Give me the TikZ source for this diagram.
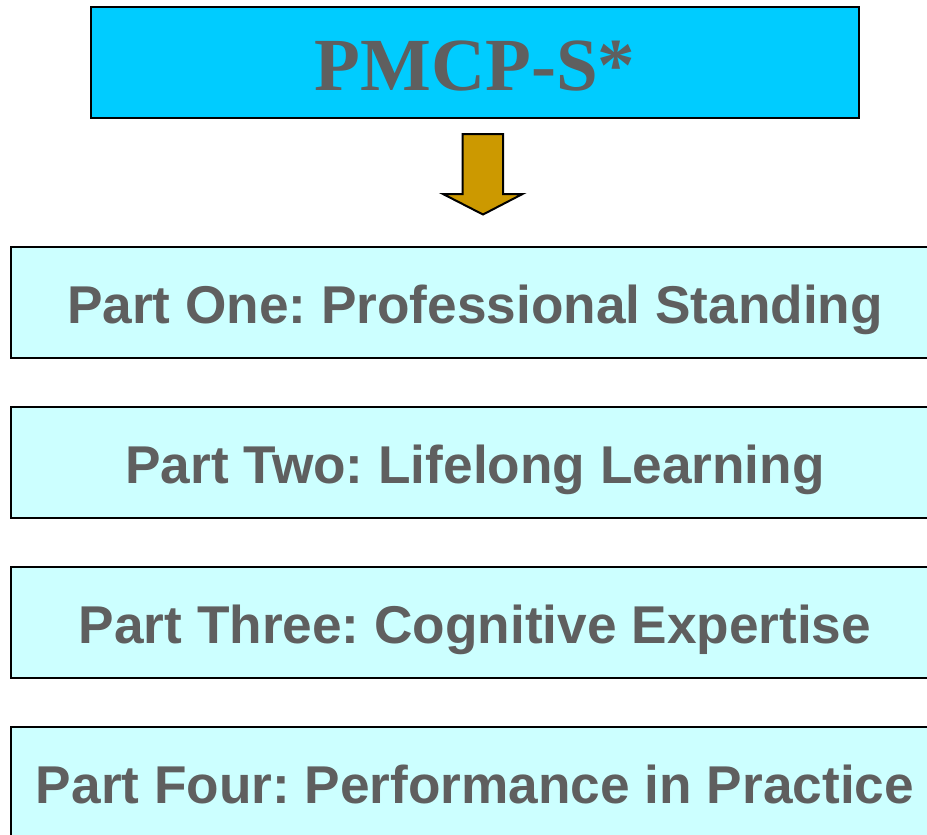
\documentclass[tikz,border=0pt]{standalone}
\usepackage{fontspec}
\setmainfont{Liberation Sans}
\newfontfamily\serifbold{Liberation Serif}
\definecolor{topfill}{HTML}{00CCFF}
\definecolor{partfill}{HTML}{CCFFFF}
\definecolor{arrowfill}{HTML}{CC9900}
\definecolor{txtgray}{HTML}{5F5F5F}
\begin{document}
\frenchspacing
\begin{tikzpicture}[x=1pt,y=-1pt,
  topbox/.style={draw=black,line width=2.2pt,fill=topfill,minimum width=768pt,minimum height=111pt,inner sep=0pt,text height=55pt,text depth=0pt,text=txtgray,font=\serifbold\bfseries\fontsize{75}{80}\selectfont},
  partbox/.style={draw=black,line width=2pt,fill=partfill,minimum width=928pt,minimum height=111pt,inner sep=0pt,text height=41pt,text depth=0pt,text=txtgray,font=\bfseries\fontsize{53.2}{60}\selectfont},
  blockarrow/.style={draw=black,line width=2pt,fill=arrowfill,line join=miter}]
\useasboundingbox (0,0) rectangle (927,835);
\clip (0,0) rectangle (927,835);
\node[topbox] (top) at (475,62.5) {PMCP-S*};
\node[partbox] (p1) at (475,302.5) {Part One: Professional Standing};
\node[partbox] (p2) at (475,462.5) {Part Two: Lifelong Learning};
\node[partbox] (p3) at (475,622.5) {Part Three: Cognitive Expertise};
\node[partbox] (p4) at (475,782.5) {Part Four: Performance in Practice};
\draw[blockarrow] (462.5,134) -- (503,134) -- (503,194) -- (522.5,194) -- (483,214.5) -- (443,194) -- (462.5,194) -- cycle;
\end{tikzpicture}
\end{document}
